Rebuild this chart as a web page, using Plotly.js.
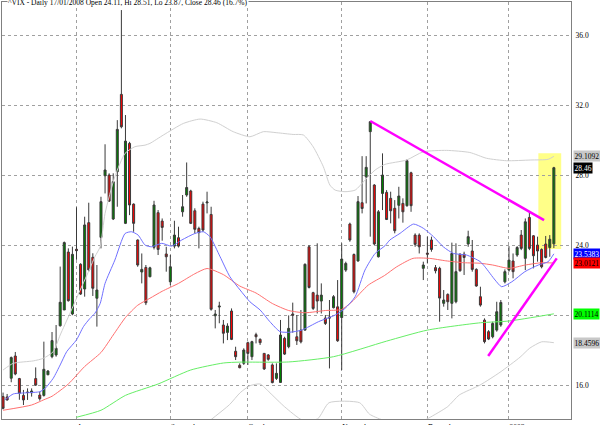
<!DOCTYPE html>
<html>
<head>
<meta charset="utf-8">
<script src="https://cdn.plot.ly/plotly-3.0.1.min.js"></script>
<style>html,body{margin:0;padding:0;background:#fff;}#chart{width:600px;height:425px;}</style>
</head>
<body>
<div id="chart"></div>
<script>
// ---- Candles (trading-day index 0..135) ----
const openV = [15.38,15.36,16.43,17.70,16.41,15.45,15.64,15.60,16.41,15.47,15.45,16.63,17.66,17.76,19.43,20.33,23.64,20.10,23.80,22.94,21.53,25.32,23.34,21.00,
24.48,28.00,28.04,25.53,28.23,32.65,25.28,29.85,26.38,24.33,22.50,22.76,22.23,23.91,25.89,25.41,23.53,21.94,23.98,24.46,25.94,26.90,27.13,26.00,
24.99,26.38,26.45,25.79,20.00,20.50,19.47,19.05,20.27,17.97,17.17,17.28,18.46,17.66,18.92,18.65,17.85,17.76,17.19,16.42,16.19,18.71,18.23,
20.10,18.80,19.18,19.18,23.94,21.32,21.18,20.84,19.87,19.93,20.46,20.51,19.90,22.61,25.24,23.50,23.13,26.46,27.94,30.52,27.47,23.37,26.99,
27.05,26.71,26.14,26.31,26.42,26.29,28.17,24.61,24.61,22.71,23.58,24.33,22.75,22.71,20.71,21.22,20.71,20.80,23.52,23.52,24.10,23.70,22.65,
21.09,19.75,19.09,18.80,19.18,19.47,21.94,22.61,23.13,23.47,24.61,23.28,25.62,24.57,24.04,23.79,24.10,23.90,24.11];
const highV = [15.61,15.53,17.67,17.93,16.45,15.76,15.85,15.85,17.05,15.66,18.52,16.90,19.07,19.47,22.81,24.24,23.85,23.95,26.20,23.00,25.66,26.46,23.57,22.90,
26.80,29.80,28.14,28.14,31.18,37.47,31.47,29.94,26.42,24.36,23.56,22.90,22.80,26.57,26.04,25.56,23.94,23.47,25.43,25.09,26.90,28.76,27.20,26.14,
25.09,26.52,27.09,26.23,20.33,20.80,19.76,19.57,20.42,18.23,17.28,18.14,18.52,18.57,19.03,18.71,17.85,17.81,17.28,17.28,19.76,18.80,20.02,
20.75,20.04,20.33,22.99,24.04,21.37,24.14,21.85,20.04,20.90,21.18,22.04,24.14,23.09,25.32,23.56,26.84,29.12,29.12,31.13,27.52,26.04,29.28,
27.18,27.09,26.61,27.37,26.71,28.94,28.23,24.71,24.71,23.09,24.52,24.52,22.90,22.80,21.47,21.28,24.18,24.14,23.56,23.66,24.86,24.33,22.71,
21.66,19.85,19.18,19.66,20.80,20.90,22.65,23.98,23.56,23.98,24.90,25.56,25.94,24.61,24.52,23.85,24.56,24.61,28.51];
const lowV = [14.65,15.15,16.20,16.60,15.20,14.90,15.19,15.38,15.99,15.15,15.38,16.60,17.57,17.66,19.38,20.33,20.81,20.03,23.20,21.19,21.09,22.52,21.13,19.38,
23.85,26.99,26.50,25.47,26.23,30.71,25.24,25.75,24.80,22.80,21.85,20.61,22.20,23.79,23.47,24.29,22.52,21.75,23.85,23.90,25.66,26.80,25.24,24.70,
23.85,24.80,25.85,20.29,19.28,19.57,18.42,18.61,18.61,17.47,17.00,17.19,17.19,17.47,18.42,18.33,16.90,17.43,16.14,16.33,16.17,17.76,18.14,
19.03,18.33,18.42,19.15,21.56,20.33,20.13,20.13,19.47,16.99,20.42,18.51,16.90,22.51,24.23,21.28,23.09,25.85,26.42,24.52,24.04,23.33,26.04,
25.47,25.28,24.71,25.56,25.32,26.23,25.94,23.94,23.56,22.04,22.99,23.66,22.42,19.66,20.52,20.33,19.85,20.71,22.52,22.33,23.94,22.52,21.66,
20.52,18.42,18.61,18.71,19.09,19.37,21.85,22.52,22.14,23.37,23.75,22.61,23.75,22.71,23.09,22.71,23.28,23.37,23.87];
const closeV = [14.71,15.19,17.61,16.67,15.57,15.19,15.62,15.70,16.04,15.26,16.94,16.84,18.58,18.14,20.77,24.18,20.86,23.51,23.72,21.24,25.19,22.62,21.57,21.47,
26.52,28.33,26.55,27.66,30.65,30.80,29.98,26.33,25.28,22.90,22.65,20.74,22.74,26.33,23.79,25.05,23.37,22.80,24.61,23.98,26.23,27.33,25.28,24.94,
24.75,24.90,26.50,20.37,20.10,20.55,19.00,19.41,18.65,17.66,17.03,18.04,17.85,18.52,18.80,18.46,16.96,17.51,16.18,16.71,18.90,17.81,19.28,
20.03,18.57,18.51,22.94,21.62,20.42,20.84,21.18,19.56,19.87,21.09,18.57,23.24,22.99,24.33,21.37,26.52,26.13,28.48,31.09,24.10,25.94,28.04,
25.50,26.00,24.86,26.84,25.94,28.86,26.29,24.08,23.94,22.90,23.52,23.79,22.57,21.01,20.90,20.80,23.56,22.52,22.57,23.33,24.52,22.65,21.70,
20.61,18.52,18.67,19.56,20.23,20.76,22.52,23.18,22.52,23.90,23.85,25.37,23.85,23.43,23.70,22.80,23.33,24.37,28.46];

// ---- Indicator lines (index, value) ----
const bbUpperX = [0,2.5,7.4,9.9,12.3,14,16.4,18.9,21.3,22.5,23.8,25,27.4,29.9,32.3,34.8,36,39.3,44.2,48.3,52.4,56.4,60.5,63.8,67.1,71.1,73.6,76,78.5,80.1,81.4,83.8,86.3,88.7,91.2,93.6,98.9,103,108.7,114.4,118.5,123.4,129.2,133.6,135];
const bbUpperY = [16.9,17.28,17.42,17.57,17.95,18.9,20.14,21.47,22.71,23.37,23.95,25.85,27.95,29.28,29.66,29.75,29.85,30.33,30.99,31.24,31.03,30.52,30.23,30.52,30.46,30.36,30.33,29.66,28.52,27.47,27.18,27.09,27.18,27.75,28.33,28.65,28.9,29.37,29.45,29.33,29.0,28.86,28.9,28.94,29.11];
const bbLowerX = [49.9,55.5,58.1,60.5,63,65.4,69,73.3,77.1,79.9,87.4,89.8,93,98.7,102.4,104.3,109,111.8,116.9,121.8,126.7,129.1,132,135];
const bbLowerY = [13.87,14.92,15.6,16.0,16.1,15.6,14.8,14.05,14.11,15.03,15.03,14.38,14.05,13.89,13.94,14.15,14.81,15.47,16.04,16.77,17.63,18.15,18.51,18.46];
const maBlueX = [0.5,2.5,6,9,10.3,12.3,14,15.6,18,19.7,21.3,22.5,23.8,25,27.4,29.9,31.5,33.1,34.8,36.4,38.9,41.3,43.8,47,49.1,50.7,53.2,55.6,58.1,60.5,63,65.4,67.9,70.3,73.2,77.3,81.4,83.8,86.3,88.7,91.2,93.6,94.8,97.3,100.6,103,105.5,107.9,110.4,113.6,116.9,118.1,120.6,122.2,124.7,127.9,131.2,133.6,135];
const maBlueY = [15.19,15.53,15.6,15.66,15.85,16.43,17.19,17.95,18.62,19.38,19.85,20.14,20.7,21.85,23.18,24.7,24.8,24.61,24.04,23.94,24.14,23.98,24.33,24.7,24.8,24.52,23.37,22.23,21.47,20.8,20.33,19.66,19.09,19.06,19.18,19.66,20.04,20.42,21.09,22.61,23.56,24.0,24.33,24.71,25.24,25.0,24.52,23.94,23.56,23.47,23.1,22.8,22.04,21.66,21.94,22.52,22.9,23.09,23.54];
const maRedX = [0,7,10,12,16,20,24,27,30,33,36,39,43,47,50,54,58,62,66,70,74,79,83,85.5,89.5,93.5,96.5,100.5,104.5,108.5,113,117,120,124,128,132,135];
const maRedY = [14.6,14.9,15.2,15.4,16.1,17.1,17.9,18.9,19.9,20.6,21.0,21.4,21.85,22.4,22.7,22.35,21.7,21.3,20.7,20.3,20.17,20.3,20.36,20.8,21.75,22.3,22.8,23.28,23.28,23.14,23.03,23.0,22.9,22.71,22.9,23.03,23.01];
const maGreenX = [18,24,30,38,46,54,58,70,81,94,104,117,124,135];
const maGreenY = [14.2,14.6,15.45,16.1,16.9,17.3,17.35,17.36,17.66,18.55,19.18,19.6,19.7,20.11];

// ---- Hand-drawn trend lines ----
const trendDownX = [90, 132.6];
const trendDownY = [31.13, 25.47];
const trendUpX = [118.9, 135.7];
const trendUpY = [17.7, 23.28];

// ---- Axis labels ----
const monthIdx = [18, 41, 60, 83, 104, 124];
const monthLabels = ['August', 'September', 'October', 'November', 'December', '2008'];
const yTicks = [16, 20, 24, 28, 32, 36];
const yTickText = ['16.0', '', '24.0', '28.0', '32.0', '36.0']; // 20.0 is hidden under the green tag

// ---- Right-edge value labels ----
const tagValues = [29.1092, 28.46, 23.5383, 23.0121, 20.1114, 18.4596];
const tagTexts = ['29.1092', '28.46', '23.5383', '23.0121', '20.1114', '18.4596'];
const tagBg = ['#c8c8c8', '#000000', '#0000ff', '#ff0000', '#00ff00', '#c8c8c8'];
const tagFg = ['#000000', '#ffffff', '#ffffff', '#000000', '#000000', '#000000'];

const titleText = '^VIX - Daily 17/01/2008 Open 24.11, Hi 28.51, Lo 23.87, Close 28.46 (16.7%)';

const idx = openV.map((_, i) => i);
const FONT = 'Liberation Serif, Times New Roman, serif';

const line = (x, y, color, width) => ({
  type: 'scatter', mode: 'lines', x: x, y: y, hoverinfo: 'skip',
  line: {color: color, width: width, shape: 'spline', smoothing: 0.6}
});

const traces = [
  line(bbUpperX, bbUpperY, '#d0d0d0', 1),
  line(bbLowerX, bbLowerY, '#d0d0d0', 1),
  line(maGreenX, maGreenY, '#66ee66', 1),
  line(maRedX, maRedY, '#ff7070', 1),
  line(maBlueX, maBlueY, '#7070ff', 1),
  {
    type: 'candlestick', x: idx, open: openV, high: highV, low: lowV, close: closeV,
    increasing: {line: {color: '#3a3a3a', width: 1}, fillcolor: '#008000'},
    decreasing: {line: {color: '#3a3a3a', width: 1}, fillcolor: '#ff0000'},
    whiskerwidth: 0, hoverinfo: 'skip'
  },
  {type: 'scatter', mode: 'lines', x: trendDownX, y: trendDownY, line: {color: '#ff00ff', width: 2.5}, hoverinfo: 'skip'},
  {type: 'scatter', mode: 'lines', x: trendUpX, y: trendUpY, line: {color: '#ff00ff', width: 2.5}, hoverinfo: 'skip'}
];

const annotations = tagValues.map((v, i) => ({
  xref: 'paper', yref: 'y', x: 1, y: v, xanchor: 'left', yanchor: 'middle', xshift: 2,
  text: tagTexts[i], showarrow: false, bgcolor: tagBg[i], borderpad: 0.5,
  font: {family: FONT, size: 7.5, color: tagFg[i]}
}));
annotations.push({
  xref: 'paper', yref: 'paper', x: 0, y: 1, xanchor: 'left', yanchor: 'middle', xshift: 5,
  text: titleText, showarrow: false, bgcolor: '#ffffff', borderpad: 0,
  font: {family: FONT, size: 7.5, color: '#000'}
});

const layout = {
  width: 600, height: 425,
  margin: {l: 2, r: 29, t: 2, b: 6},
  paper_bgcolor: '#ffffff', plot_bgcolor: '#ffffff',
  showlegend: false,
  xaxis: {
    range: [-0.26, 139.2], tickmode: 'array', tickvals: monthIdx, ticktext: monthLabels,
    ticklabelposition: 'outside right', ticks: '', showgrid: true, gridcolor: '#a0a0a0', griddash: 'dot', gridwidth: 1,
    zeroline: false, showline: true, mirror: true, linecolor: '#808080', linewidth: 1,
    rangeslider: {visible: false}, fixedrange: true,
    tickfont: {family: FONT, size: 7.5, color: '#000'}, ticklabelstandoff: 1
  },
  yaxis: {
    range: [14.1, 37.93], side: 'right', tickmode: 'array', tickvals: yTicks,
    ticktext: yTickText, ticks: '', showgrid: true, gridcolor: '#a0a0a0', griddash: 'dot', gridwidth: 1,
    zeroline: false, showline: true, mirror: true, linecolor: '#808080', linewidth: 1, fixedrange: true,
    tickfont: {family: FONT, size: 7.5, color: '#000'}, ticklabelstandoff: 2
  },
  shapes: [{
    type: 'rect', xref: 'x', yref: 'y', x0: 131.2, x1: 136.8, y0: 23.82, y1: 29.28,
    fillcolor: '#ffff88', line: {width: 0}, layer: 'below'
  }],
  annotations: annotations
};

Plotly.newPlot('chart', traces, layout, {staticPlot: true, displayModeBar: false});
</script>
</body>
</html>
